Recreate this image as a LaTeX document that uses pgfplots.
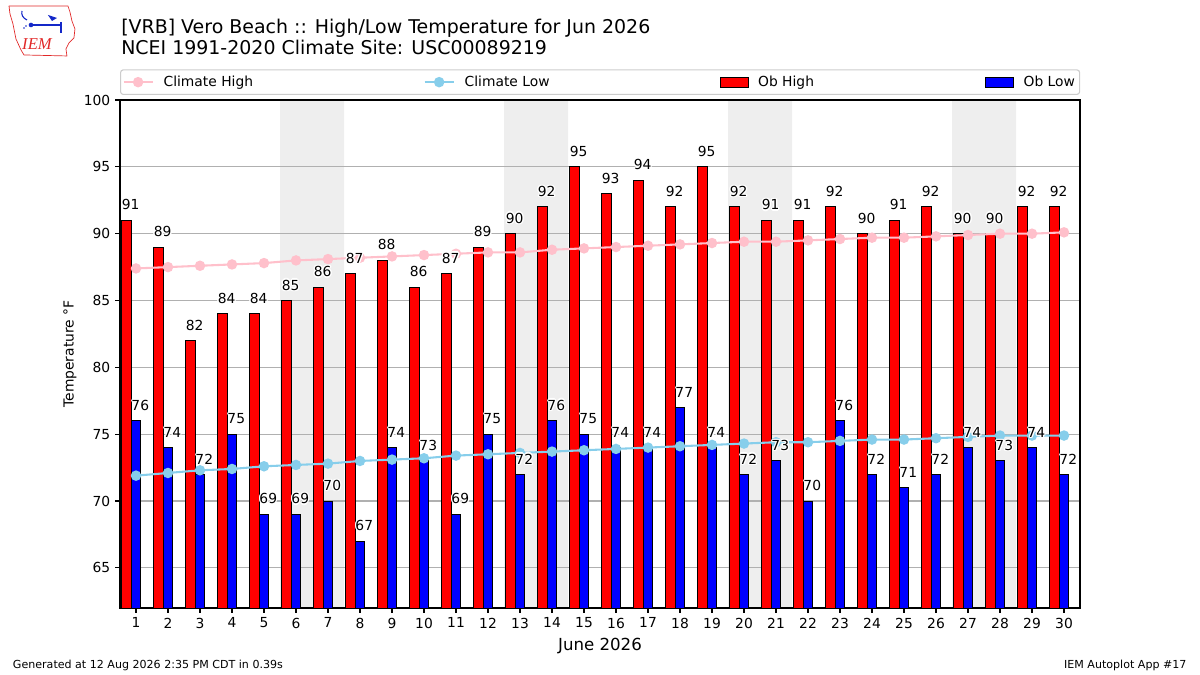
\documentclass[border=0pt]{standalone}
\usepackage{fontspec}
\setmainfont{DejaVu Sans}
\newfontfamily\logofont{Liberation Serif}
\usepackage{pgfplots}
\usepackage{pgfplotstable}
\pgfplotsset{compat=1.18}
\definecolor{chigh}{RGB}{255,192,203}
\definecolor{clow}{RGB}{135,206,235}
\definecolor{wkend}{RGB}{238,238,238}
\definecolor{gridc}{RGB}{176,176,176}
\definecolor{legframe}{RGB}{204,204,204}
\definecolor{logored}{RGB}{225,40,40}
\definecolor{logoblue}{RGB}{20,40,200}

\newcommand{\hl}[3]{\rlap{\textcolor{white}{\hspace*{#1}\raisebox{#2}[0pt][0pt]{#3}}}}
\newcommand{\halo}[1]{\leavevmode\hl{1pt}{0pt}{#1}\hl{-1pt}{0pt}{#1}\hl{0pt}{1pt}{#1}\hl{0pt}{-1pt}{#1}%
  \hl{0.7pt}{0.7pt}{#1}\hl{-0.7pt}{0.7pt}{#1}\hl{0.7pt}{-0.7pt}{#1}\hl{-0.7pt}{-0.7pt}{#1}#1}

\pgfplotsset{
  lineleg/.style={legend image code/.code={\draw[mark repeat=2,mark phase=2,##1] plot coordinates {(0in,0in)(0.145in,0in)(0.29in,0in)};}},
  barleg/.style={legend image code/.code={\draw[sharp corners,##1] (0in,-0.05in) rectangle (0.28in,0.05in);}},
}

\pgfplotstableread{
day high low chigh clow
1 91 76 87.4 71.9
2 89 74 87.5 72.1
3 82 72 87.6 72.3
4 84 75 87.7 72.4
5 84 69 87.8 72.6
6 85 69 88.0 72.7
7 86 70 88.1 72.8
8 87 67 88.2 73.0
9 88 74 88.3 73.1
10 86 73 88.4 73.2
11 87 69 88.5 73.4
12 89 75 88.6 73.5
13 90 72 88.6 73.6
14 92 76 88.8 73.7
15 95 75 88.9 73.8
16 93 74 89.0 73.9
17 94 74 89.1 74.0
18 92 77 89.2 74.1
19 95 74 89.3 74.2
20 92 72 89.4 74.3
21 91 73 89.4 74.4
22 91 70 89.5 74.4
23 92 76 89.6 74.5
24 90 72 89.7 74.6
25 91 71 89.7 74.6
26 92 72 89.8 74.7
27 90 74 89.9 74.8
28 90 73 90.0 74.9
29 92 74 90.0 74.9
30 92 72 90.1 74.9
}\data

\begin{document}
\begin{tikzpicture}
\path (0,0) rectangle (12in,6.75in);
\begin{axis}[
  at={(1.2in,0.67in)}, anchor=south west,
  scale only axis, width=9.6in, height=5.08in,
  xmin=0.5, xmax=30.5, ymin=62, ymax=100,
  xtick={1,...,30}, ytick={65,70,...,100},
  xtick pos=bottom, ytick pos=left,
  tick align=outside, major tick length=3.5pt,
  tick style={black, line width=0.8pt},
  axis line style={line width=0.8pt},
  ymajorgrids, major grid style={gridc, line width=0.8pt},
  tick label style={font=\fontsize{10}{12}\selectfont},
  /pgf/number format/assume math mode=true,
  set layers,
  legend columns=4,
  legend style={at={(0,1)}, anchor=south west, yshift=0.05in,
    draw=legframe, line width=0.8pt, rounded corners=2pt,
    inner xsep=0.02in, inner ysep=0.06in, column sep=0pt,
    font=\fontsize{10}{12}\selectfont, nodes={inner sep=0pt}},
  legend cell align=left,
]
% legend entries
\addlegendimage{chigh, line width=1.5pt, mark=*, mark size=3pt, mark options={fill=chigh, draw=chigh}, lineleg}
\addlegendentry{\makebox[2.70in][l]{\hspace{0.10in}Climate High}}
\addlegendimage{clow, line width=1.5pt, mark=*, mark size=3pt, mark options={fill=clow, draw=clow}, lineleg}
\addlegendentry{\makebox[2.65in][l]{\hspace{0.10in}Climate Low}}
\addlegendimage{fill=red, draw=black, line width=0.7pt, barleg}
\addlegendentry{\makebox[2.36in][l]{\hspace{0.095in}Ob High}}
\addlegendimage{fill=blue, draw=black, line width=0.7pt, barleg}
\addlegendentry{\makebox[0.64in][l]{\hspace{0.10in}Ob Low}}

% weekend shading
\addplot[forget plot, fill=wkend, draw=none, on layer=axis background] coordinates {(5.5,62) (7.5,62) (7.5,100) (5.5,100) (5.5,62)};
\addplot[forget plot, fill=wkend, draw=none, on layer=axis background] coordinates {(12.5,62) (14.5,62) (14.5,100) (12.5,100) (12.5,62)};
\addplot[forget plot, fill=wkend, draw=none, on layer=axis background] coordinates {(19.5,62) (21.5,62) (21.5,100) (19.5,100) (19.5,62)};
\addplot[forget plot, fill=wkend, draw=none, on layer=axis background] coordinates {(26.5,62) (28.5,62) (28.5,100) (26.5,100) (26.5,62)};

% bars
\addplot[forget plot, ybar, bar width=0.3, bar shift=0pt, fill=red, draw=black, line width=0.7pt]
  table[x expr=\thisrow{day}-0.3, y=high] {\data};
\addplot[forget plot, ybar, bar width=0.3, bar shift=0pt, fill=blue, draw=black, line width=0.7pt]
  table[x=day, y=low] {\data};

% climate lines
\addplot[forget plot, chigh, line width=1.5pt, mark=*, mark size=3pt, mark options={fill=chigh, draw=chigh}]
  table[x=day, y=chigh] {\data};
\addplot[forget plot, clow, line width=1.5pt, mark=*, mark size=3pt, mark options={fill=clow, draw=clow}]
  table[x=day, y=clow] {\data};

% value labels
\addplot[forget plot, draw=none, mark=none, point meta=y,
  nodes near coords={\halo{\pgfmathprintnumber{\pgfplotspointmeta}}},
  nodes near coords style={anchor=south west, inner sep=0pt, yshift=0.1in, text=black, font=\fontsize{10}{12}\selectfont}]
  table[x expr=\thisrow{day}-0.45, y=high] {\data};
\addplot[forget plot, draw=none, mark=none, point meta=y,
  nodes near coords={\halo{\pgfmathprintnumber{\pgfplotspointmeta}}},
  nodes near coords style={anchor=south west, inner sep=0pt, yshift=0.1in, text=black, font=\fontsize{10}{12}\selectfont}]
  table[x expr=\thisrow{day}-0.15, y=low] {\data};
\end{axis}

% titles
\node[anchor=base west, inner sep=0pt, font=\fontsize{13.7}{16}\selectfont] at (1.21in,6.417in) {[VRB] Vero Beach :: High/Low Temperature for Jun 2026};
\node[anchor=base west, inner sep=0pt, font=\fontsize{13.7}{16}\selectfont] at (1.21in,6.207in) {NCEI 1991-2020 Climate Site: USC00089219};
% axis labels
\node[rotate=90, inner sep=0pt, font=\fontsize{10}{12}\selectfont] at (0.70in,3.21in) {Temperature °F};
\node[anchor=base, inner sep=0pt, font=\fontsize{12}{14}\selectfont] at (6.0in,0.25in) {June 2026};
% footer
\node[anchor=base west, inner sep=0pt, font=\fontsize{8}{10}\selectfont] at (0.127in,0.065in) {Generated at 12 Aug 2026 2:35 PM CDT in 0.39s};
\node[anchor=base east, inner sep=0pt, font=\fontsize{8}{10}\selectfont] at (11.867in,0.065in) {IEM Autoplot App \#17};

% logo
\begin{scope}[shift={(0,6.75in)}, x=0.01in, y=-0.01in]
  \draw[logored, line width=0.5pt, line join=round]
    (9,6) -- (68,6) -- (70,12) -- (72,21) -- (75,29) -- (74,38) -- (69,43) -- (66,49) -- (67,56)
    -- (24,55) -- (21,50) -- (16,39) -- (13,24) -- (10,14) -- cycle;
  \draw[logoblue, line width=1.2pt] (31,25) -- (61,25);
  \fill[logoblue] (31,25) circle (2.3);
  \fill[logoblue] (48,15) -- (57,18) -- (52,21) -- cycle;
  \draw[logoblue, line width=1pt] (61,22) -- (61,33);
  \draw[logoblue, line width=0.8pt] (22,11) .. controls (21,15) and (23,18) .. (27,20);
  \fill[logoblue] (24,28) circle (0.9);
  \fill[logoblue] (26,26) circle (0.9);
  \node[logored, inner sep=0pt, font=\logofont\itshape\fontsize{12}{14}\selectfont] at (37,44) {IEM};
\end{scope}
\end{tikzpicture}
\end{document}
